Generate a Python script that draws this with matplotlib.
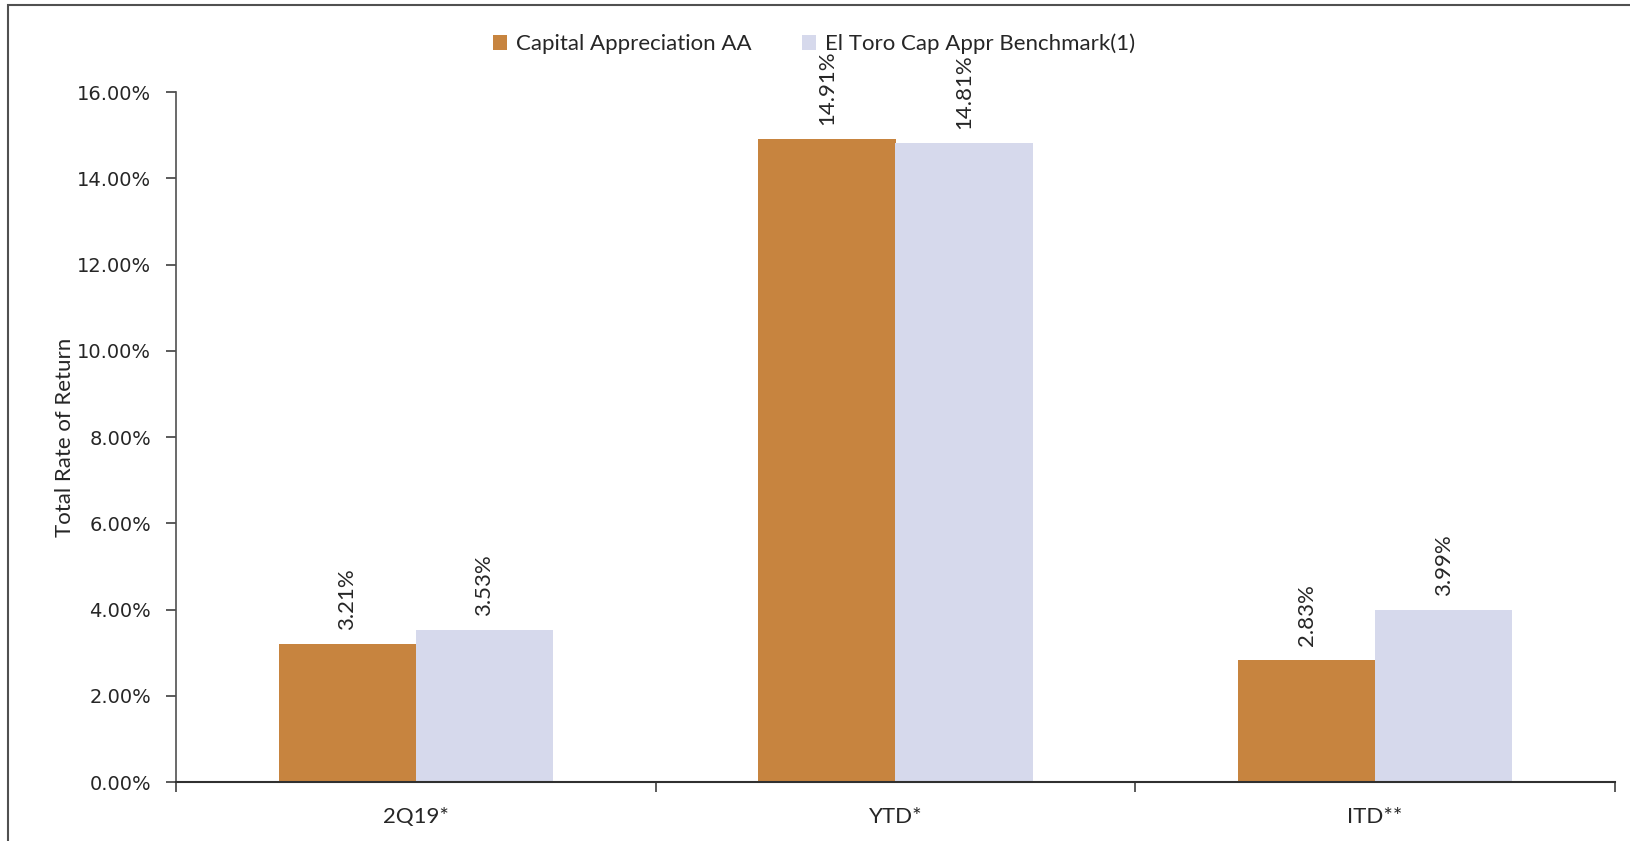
import matplotlib
matplotlib.use("Agg")
import matplotlib.pyplot as plt
import numpy as np
from matplotlib.patches import Rectangle

categories = ["2Q19*", "YTD*", "ITD**"]
series_names = ["Capital Appreciation AA", "El Toro Cap Appr Benchmark(1)"]
fund = [3.21, 14.91, 2.83]
bench = [3.53, 14.81, 3.99]
yticks = [0, 2, 4, 6, 8, 10, 12, 14, 16]

c_fund = "#C7843F"
c_bench = "#D6D9EC"
txt = "#262626"
label_font = ["Lato", "DejaVu Sans"]

fig = plt.figure(figsize=(16.31, 8.41), dpi=100)
ax = fig.add_axes([176/1631, 1-782/841, (1615-176)/1631, (782-92)/841])

x = np.arange(len(categories))
w = 2/7
b1 = ax.bar(x - w/2, fund, width=w, color=c_fund, label=series_names[0])
b2 = ax.bar(x + w/2, bench, width=w, color=c_bench, label=series_names[1])

for bars, vals in ((b1, fund), (b2, bench)):
    for r, v in zip(bars, vals):
        ax.annotate(f"{v:.2f}%", (r.get_x() + r.get_width()/2, v),
                    xytext=(0, 10), textcoords="offset points",
                    rotation=90, ha="center", va="bottom",
                    fontsize=16, color=txt, family=label_font)

ax.set_xlim(-0.5, len(categories) - 0.5)
ax.set_ylim(0, 16)
ax.set_yticks(yticks)
ax.set_yticklabels([f"{t:.2f}%" for t in yticks], fontsize=14, color=txt, family="DejaVu Sans")
ax.set_xticks(x)
ax.set_xticklabels(categories, fontsize=16, color=txt, family=label_font)
ax.set_xticks(np.arange(len(categories) + 1) - 0.5, minor=True)
ax.tick_params(axis="x", which="major", length=0, pad=18)
ax.tick_params(axis="x", which="minor", length=7, width=1.2, color="#404040", direction="out")
ax.tick_params(axis="y", length=7, width=1.2, color="#404040", pad=11)

for s in ("top", "right"):
    ax.spines[s].set_visible(False)
ax.spines["left"].set_color("#505050")
ax.spines["left"].set_linewidth(1.2)
ax.spines["bottom"].set_color("#303030")
ax.spines["bottom"].set_linewidth(1.5)

ax.set_ylabel("Total Rate of Return", fontsize=16, color=txt, family=label_font)
ax.yaxis.set_label_coords((75 - 176) / (1615 - 176), 0.5)

leg = fig.legend(loc="center", bbox_to_anchor=(814/1631, 1-44/841), ncol=2, frameon=False,
                 prop={"family": label_font, "size": 16}, handlelength=0.6, handleheight=0.6,
                 handletextpad=0.4, columnspacing=2.3)
for t in leg.get_texts():
    t.set_color(txt)

fig.patches.append(Rectangle((8/1631, -0.1), 1.2, 0.1 + 1 - 5/841, transform=fig.transFigure,
                             fill=False, edgecolor="#505050", linewidth=1.5))

fig.savefig("out.png", dpi=100)
